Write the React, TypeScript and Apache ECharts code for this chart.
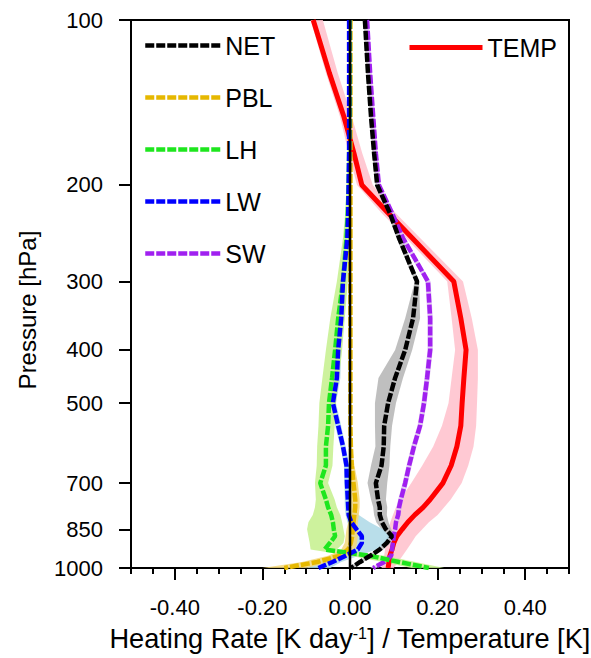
import React, { useEffect, useRef } from "react";
import * as echarts from "echarts";

const FONT = "'Liberation Sans', Arial, Helvetica, sans-serif";

// Pressure levels (hPa)
const levels = [100, 125, 150, 175, 200, 225, 250, 300, 350, 400, 450, 500, 550, 600, 650, 700, 750, 775, 800, 825, 850, 875, 900, 925, 950, 975, 1000];

// Axis tick labels
const xMajorTicks = [-0.4, -0.2, 0, 0.2, 0.4];
const xMinorTicks = [-0.5, -0.45, -0.35, -0.3, -0.25, -0.15, -0.1, -0.05, 0.05, 0.1, 0.15, 0.25, 0.3, 0.35, 0.45, 0.5];
const pTicks = [100, 200, 300, 400, 500, 700, 850, 1000];

// NET heating rate
const net = [0.034, 0.041, 0.048, 0.055, 0.062, 0.091, 0.112, 0.153, 0.144, 0.126, 0.103, 0.087, 0.078, 0.077, 0.072, 0.059, 0.064, 0.068, 0.068, 0.073, 0.082, 0.096, 0.084, 0.068, 0.046, 0.023, 0.002];
const netLow = [0.030, 0.037, 0.044, 0.051, 0.058, 0.086, 0.106, 0.148, 0.126, 0.103, 0.065, 0.057, 0.057, 0.058, 0.048, 0.040, 0.048, 0.053, 0.055, 0.060, 0.072, 0.087, 0.076, 0.061, 0.039, 0.016, -0.004];
const netHigh = [0.038, 0.045, 0.052, 0.059, 0.066, 0.096, 0.118, 0.158, 0.160, 0.142, 0.121, 0.105, 0.096, 0.092, 0.090, 0.085, 0.082, 0.085, 0.084, 0.088, 0.094, 0.105, 0.093, 0.076, 0.054, 0.030, 0.008];

// PBL heating rate
const pbl = [0.001, 0.001, 0.001, 0.001, 0.001, 0.001, 0.001, 0.001, 0.001, 0.001, 0.001, 0.001, 0.001, 0.002, 0.004, 0.008, 0.012, 0.012, 0.010, 0.008, 0.006, 0.005, 0.002, -0.004, -0.025, -0.075, -0.150];
const pblLow = [-0.001, -0.001, -0.001, -0.001, -0.001, -0.001, -0.001, -0.001, -0.001, -0.001, -0.001, -0.001, -0.001, -0.001, -0.002, 0.000, 0.002, 0.002, 0.000, -0.004, -0.008, -0.010, -0.012, -0.020, -0.050, -0.110, -0.200];
const pblHigh = [0.004, 0.004, 0.004, 0.004, 0.004, 0.004, 0.004, 0.004, 0.004, 0.004, 0.004, 0.004, 0.004, 0.005, 0.010, 0.018, 0.022, 0.022, 0.020, 0.018, 0.018, 0.018, 0.016, 0.012, 0.000, -0.040, -0.100];

// LH heating rate
const lh = [-0.001, -0.001, -0.001, -0.002, -0.003, -0.005, -0.008, -0.016, -0.027, -0.034, -0.041, -0.048, -0.050, -0.055, -0.055, -0.068, -0.055, -0.050, -0.043, -0.039, -0.037, -0.034, -0.046, -0.058, 0.045, 0.112, 0.180];
const lhLow = [-0.003, -0.004, -0.005, -0.006, -0.008, -0.011, -0.016, -0.030, -0.045, -0.055, -0.063, -0.070, -0.072, -0.075, -0.076, -0.080, -0.078, -0.080, -0.085, -0.095, -0.098, -0.095, -0.092, -0.090, 0.000, 0.075, 0.140];
const lhHigh = [0.001, 0.001, 0.001, 0.001, 0.000, 0.000, -0.001, -0.005, -0.012, -0.018, -0.025, -0.032, -0.035, -0.038, -0.040, -0.050, -0.035, -0.030, -0.022, -0.018, -0.015, -0.012, -0.015, -0.030, 0.080, 0.150, 0.215];

// LW heating rate
const lw = [-0.002, -0.002, -0.002, -0.002, -0.003, -0.004, -0.006, -0.016, -0.020, -0.027, -0.030, -0.039, -0.027, -0.016, -0.008, -0.007, -0.005, -0.004, -0.003, 0.003, 0.015, 0.027, 0.027, 0.018, -0.010, -0.040, -0.072];
const lwLow = [-0.003, -0.003, -0.004, -0.004, -0.005, -0.007, -0.010, -0.022, -0.027, -0.034, -0.038, -0.046, -0.034, -0.022, -0.014, -0.013, -0.012, -0.012, -0.010, -0.006, 0.000, 0.005, 0.000, -0.010, -0.040, -0.070, -0.100];
const lwHigh = [0.000, 0.000, 0.000, 0.000, -0.001, -0.001, -0.002, -0.010, -0.013, -0.020, -0.022, -0.032, -0.020, -0.010, -0.002, -0.001, 0.005, 0.008, 0.020, 0.045, 0.075, 0.090, 0.085, 0.060, 0.020, -0.020, -0.045];

// SW heating rate
const sw = [0.039, 0.046, 0.053, 0.059, 0.066, 0.096, 0.121, 0.178, 0.183, 0.183, 0.176, 0.169, 0.160, 0.146, 0.135, 0.126, 0.116, 0.112, 0.110, 0.105, 0.103, 0.100, 0.098, 0.096, 0.094, 0.078, 0.053];
const swLow = [0.035, 0.042, 0.049, 0.055, 0.062, 0.091, 0.116, 0.172, 0.177, 0.177, 0.170, 0.163, 0.154, 0.140, 0.129, 0.120, 0.110, 0.106, 0.104, 0.100, 0.098, 0.095, 0.093, 0.091, 0.089, 0.072, 0.046];
const swHigh = [0.043, 0.050, 0.057, 0.063, 0.070, 0.101, 0.126, 0.184, 0.189, 0.189, 0.182, 0.175, 0.166, 0.152, 0.141, 0.132, 0.122, 0.118, 0.116, 0.110, 0.108, 0.105, 0.103, 0.101, 0.099, 0.084, 0.060];

// Temperature
const temp = [-0.084, -0.047, -0.014, 0.009, 0.027, 0.087, 0.142, 0.237, 0.253, 0.265, 0.260, 0.256, 0.253, 0.244, 0.231, 0.212, 0.183, 0.167, 0.148, 0.132, 0.119, 0.107, 0.100, 0.096, 0.091, 0.089, 0.087];
const tempLow = [-0.090, -0.055, -0.023, -0.003, 0.016, 0.072, 0.128, 0.222, 0.232, 0.240, 0.232, 0.225, 0.210, 0.190, 0.165, 0.140, 0.115, 0.105, 0.098, 0.092, 0.088, 0.085, 0.082, 0.080, 0.078, 0.075, 0.072];
const tempHigh = [-0.062, -0.028, 0.004, 0.028, 0.052, 0.104, 0.160, 0.258, 0.278, 0.292, 0.292, 0.290, 0.288, 0.282, 0.270, 0.255, 0.230, 0.215, 0.200, 0.180, 0.165, 0.150, 0.140, 0.130, 0.120, 0.110, 0.100];

const zeroLine = [0, 0];
const zeroLevels = [100, 1000];

function band(name: string, low: number[], high: number[], color: string) {
  return {
    type: "custom",
    name: name + " range",
    data: levels.map((p, i) => [low[i], high[i], p]),
    encode: { x: [0, 1], y: 2 },
    silent: true,
    z: 1,
    renderItem: (params: any, api: any) => {
      if (params.dataIndex !== 0) return null;
      const pts: number[][] = [];
      for (let i = 0; i < levels.length; i++) pts.push(api.coord([low[i], levels[i]]));
      for (let i = levels.length - 1; i >= 0; i--) pts.push(api.coord([high[i], levels[i]]));
      return { type: "polygon", shape: { points: pts }, style: { fill: color, opacity: 0.85 } };
    },
  };
}

function line(name: string, vals: number[], color: string, dashed: boolean, z: number) {
  return {
    type: "line",
    name,
    data: levels.map((p, i) => [vals[i], p]),
    symbol: "none",
    z,
    silent: true,
    lineStyle: { color, width: dashed ? 4.5 : 5, type: dashed ? [9, 2] : "solid", cap: "butt" },
    itemStyle: { color },
  };
}

export default function App() {
  const ref = useRef<HTMLDivElement>(null);
  useEffect(() => {
    const chart = echarts.init(ref.current!, null, { renderer: "svg" });
    const legendCommon = {
      orient: "vertical",
      padding: 0,
      itemHeight: 25,
      itemGap: 27,
      selectedMode: false,
      textStyle: { fontSize: 25, fontFamily: FONT, color: "#000", lineHeight: 25 },
      itemStyle: { opacity: 0 },
      lineStyle: { width: "inherit" },
    };
    chart.setOption({
      animation: false,
      backgroundColor: "#fff",
      textStyle: { fontFamily: FONT },
      grid: {
        left: 131,
        right: 22,
        top: 20,
        bottom: 90,
        containLabel: false,
        outerBoundsMode: "none",
        show: true,
        borderColor: "#000",
        borderWidth: 2,
      },
      legend: [
        { ...legendCommon, data: ["NET", "PBL", "LH", "LW", "SW"], left: 143, top: 33, itemWidth: 75 },
        { ...legendCommon, data: ["TEMP"], left: 407, top: 35, itemWidth: 73 },
      ],
      xAxis: [
        {
          type: "value",
          min: -0.5,
          max: 0.5,
          position: "bottom",
          axisLine: { show: true, onZero: false, lineStyle: { color: "#000", width: 2 } },
          axisTick: { show: true, inside: false, customValues: xMajorTicks, length: 12, lineStyle: { color: "#000", width: 2 } },
          axisLabel: { customValues: xMajorTicks, formatter: (v: number) => v.toFixed(2), fontSize: 22, color: "#000", margin: 28, fontFamily: FONT },
          splitLine: { show: false },
          name: "{a|Heating Rate [K day}{s|-1}{a|] / Temperature [K]}",
          nameLocation: "middle",
          nameGap: 57,
          nameTextStyle: {
            color: "#000",
            rich: {
              a: { fontSize: 27.2, fontFamily: FONT, color: "#000" },
              s: { fontSize: 16, fontFamily: FONT, color: "#000", verticalAlign: "top" },
            },
          },
        },
        {
          type: "value",
          min: -0.5,
          max: 0.5,
          position: "bottom",
          axisLine: { show: false, onZero: false },
          axisTick: { show: true, inside: false, customValues: xMinorTicks, length: 6, lineStyle: { color: "#000", width: 2 } },
          axisLabel: { show: false },
          splitLine: { show: false },
        },
      ],
      yAxis: {
        type: "log",
        logBase: 10,
        min: 100,
        max: 1000,
        inverse: true,
        position: "left",
        axisLine: { show: true, onZero: false, lineStyle: { color: "#000", width: 2 } },
        axisTick: { show: true, inside: false, customValues: pTicks, length: 12, lineStyle: { color: "#000", width: 2 } },
        axisLabel: { customValues: pTicks, formatter: (v: number) => String(Math.round(v)), fontSize: 22, color: "#000", margin: 28, fontFamily: FONT },
        splitLine: { show: false },
        name: "Pressure [hPa]",
        nameLocation: "middle",
        nameGap: 92,
        nameTextStyle: { fontSize: 24, fontFamily: FONT, color: "#000", padding: [0, 32, 0, 0] },
      },
      series: [
        band("TEMP", tempLow, tempHigh, "#ffc0cb"),
        band("NET", netLow, netHigh, "#b4b4b4"),
        band("SW", swLow, swHigh, "#dcc0f0"),
        band("LW", lwLow, lwHigh, "#add8e6"),
        band("LH", lhLow, lhHigh, "#c4f08c"),
        band("PBL", pblLow, pblHigh, "#f3d77a"),
        line("TEMP", temp, "#ff0000", false, 3),
        line("SW", sw, "#a020f0", true, 4),
        line("PBL", pbl, "#e6b800", true, 5),
        line("LH", lh, "#1ee61e", true, 6),
        line("LW", lw, "#0000ff", true, 7),
        line("NET", net, "#000000", true, 8),
        {
          type: "line",
          name: "zero",
          data: zeroLine.map((v, i) => [v, zeroLevels[i]]),
          symbol: "none",
          silent: true,
          z: 9,
          lineStyle: { color: "#000", width: 2.5 },
        },
      ],
    });
    return () => chart.dispose();
  }, []);
  return <div ref={ref} style={{ position: "absolute", left: 0, top: 0, width: 591, height: 658 }} />;
}
